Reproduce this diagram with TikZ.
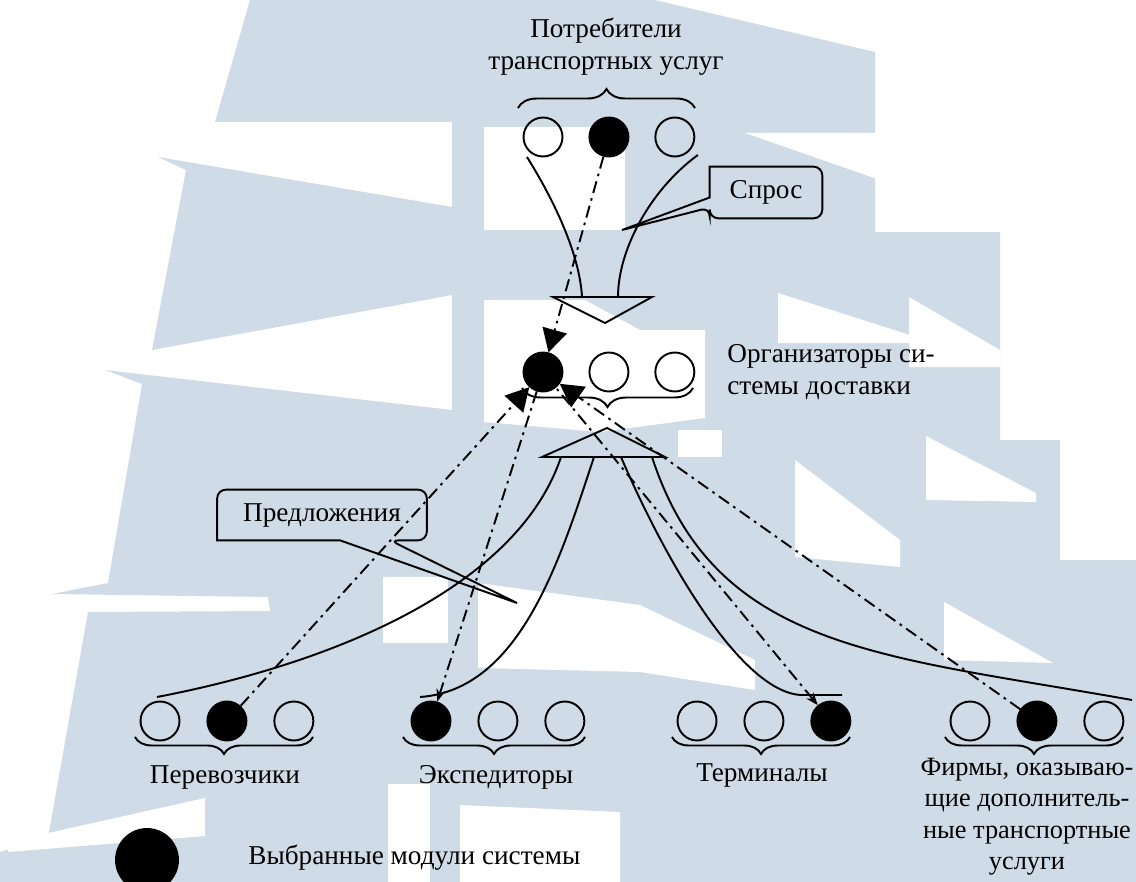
\documentclass[tikz,border=0pt]{standalone}
\usepackage{fontspec}
\setmainfont{Liberation Serif}
\usetikzlibrary{positioning}
\usetikzlibrary{calc}
\usetikzlibrary{arrows.meta}
\usetikzlibrary{decorations.pathreplacing}
\definecolor{vodyanoj}{RGB}{207,219,230}
\tikzset{modul/.style={circle, draw, line width=1.1pt, minimum size=0.78cm, inner sep=0pt},
        vybran/.style={modul, fill=black},
        podpis/.style={font=\fontsize{15.5pt}{18pt}\selectfont, inner sep=0pt, align=center},
        linia/.style={line width=1.1pt},
        punktir/.style={line width=1.1pt, dash pattern=on 7pt off 3pt on 1.5pt off 3pt},
        bolshaya/.style={-{Triangle[length=0.46cm, width=0.5cm]}},
        skobka/.style={decorate, decoration={brace, amplitude=#1}, line width=1.1pt},
        skobka/.default=0.34cm,
}

\begin{document}
\begin{tikzpicture}[x=0.02cm, y=-0.02cm]
      \useasboundingbox (0,0) rectangle (1136,882);
      % WATERMARK (sails in the background)
      \fill[vodyanoj] (250,0) -- (452,0) -- (452,122) -- (215,122) -- cycle;
      \fill[vodyanoj] (158,157) -- (452,207) -- (452,295) -- (152,350) -- (186,170) -- cycle;
      \fill[vodyanoj] (105,370) -- (452,410) -- (452,882) -- (0,882) -- (0,852) -- (48,838) -- (88,612) -- (270,611) -- (268,597) -- (52,594) -- (108,583) -- (142,384) -- cycle;
      \fill[vodyanoj] (452,0) -- (655,0) -- (875,52) -- (875,232) -- (1000,232) -- (1000,440) -- (1136,440) -- (1136,882) -- (452,882) -- cycle;
      \fill[white] (8,842) -- (205,798) -- (205,836) -- (8,852) -- cycle;
      \fill[white] (484,127) rectangle (625,230);
      \fill[white] (745,133) -- (880,133) -- (880,180) -- cycle;
      \fill[white] (484,300) -- (585,300) -- (640,330) -- (705,330) -- (705,418) -- (600,432) -- (484,422) -- cycle;
      \fill[white] (778,293) -- (935,343) -- (778,343) -- cycle;
      \fill[white] (909,297) -- (1000,350) -- (1000,367) -- (909,367) -- cycle;
      \fill[white] (795,460) -- (900,540) -- (900,567) -- (795,557) -- cycle;
      \fill[white] (926,436) -- (1036,493) -- (1036,502) -- (926,500) -- cycle;
      \fill[white] (944,602) -- (1053,663) -- (944,660) -- cycle;
      \fill[white] (1060,440) rectangle (1136,560);
      \fill[white] (383,577) rectangle (448,643);
      \fill[white] (478,583) -- (640,605) -- (755,660) -- (755,690) -- (640,672) -- (478,668) -- cycle;
      \fill[white] (388,784) rectangle (430,882);
      \fill[white] (460,805) -- (620,812) -- (620,882) -- (460,882) -- cycle;
      \fill[white] (678,430) rectangle (722,457);

      % CONSUMERS
      \node[podpis, anchor=north] (potreb) at (606,18) {Потребители\\транспортных услуг};
      \node[modul] (cons1) at (543,137) {};
      \node[vybran, right=0.5cm of cons1] (cons2) {};
      \node[modul, right=0.5cm of cons2] (cons3) {};
      \draw[skobka=0.38cm] (518,108) -- (695,108);

      % DEMAND
      \coordinate (spros-l) at (553,297);
      \coordinate (spros-r) at (652,297);
      \coordinate (spros-v) at (605,323);
      \draw[linia] (spros-l) -- (spros-r) -- (spros-v) -- cycle;
      \draw[linia] ($(cons1)+(-16,20)$) .. controls (560,210) and (580,260) .. (582,297);
      \draw[linia] ($(cons3)+(23,18)$) .. controls (650,190) and (618,250) .. (618,297);
      \node[podpis, minimum width=2.24cm, minimum height=1.02cm] (spros) at (766,192.5) {Спрос};
      \coordinate (spros-tip) at (622,230);
      \draw[linia] (spros-tip) -- ($(spros.west)+(0,5)$) -- (spros.north west) [rounded corners=5pt] -- (spros.north east) -- (spros.south east) -- (spros.south west) -- ($(spros.west)+(0,15)$) [sharp corners] -- cycle;

      % ORGANIZERS
      \node[vybran] (org1) at (543,372) {};
      \node[modul, right=0.5cm of org1] (org2) {};
      \node[modul, right=0.5cm of org2] (org3) {};
      \draw[skobka=0.38cm] (693,388) -- (522,388);
      \node[podpis, anchor=north west, align=left] (organiz) at (727,344) {Организаторы си-\\стемы доставки};
      \draw[punktir, bolshaya] (cons2) -- (org1);

      % SUPPLY
      \coordinate (predl-l) at (542,457);
      \coordinate (predl-r) at (665,457);
      \coordinate (predl-v) at (607,428);
      \draw[linia] (predl-l) -- (predl-r) -- (predl-v) -- cycle;

      % MODULES
      \node[modul] (per1) at (160,721) {};
      \node[vybran, right=0.52cm of per1] (per2) {};
      \node[modul, right=0.52cm of per2] (per3) {};
      \node[vybran] (eks1) at (431,721) {};
      \node[modul, right=0.52cm of eks1] (eks2) {};
      \node[modul, right=0.52cm of eks2] (eks3) {};
      \node[modul] (ter1) at (697,721) {};
      \node[modul, right=0.52cm of ter1] (ter2) {};
      \node[vybran, right=0.52cm of ter2] (ter3) {};
      \node[modul] (fir1) at (970,721) {};
      \node[vybran, right=0.52cm of fir1] (fir2) {};
      \node[modul, right=0.52cm of fir2] (fir3) {};
      \draw[skobka] (313,737) -- (135,737);
      \draw[skobka] (585,737) -- (403,737);
      \draw[skobka] (850,737) -- (672,737);
      \draw[skobka] (1123,737) -- (945,737);
      \node[podpis, anchor=base] (perevoz) at (225,783) {Перевозчики};
      \node[podpis, anchor=base] (eksped) at (496,783) {Экспедиторы};
      \node[podpis, anchor=base] (termin) at (762,781) {Терминалы};
      \node[podpis, anchor=north, font=\fontsize{15pt}{17.8pt}\selectfont] (firmy) at (1027,758) {Фирмы, оказываю-\\щие дополнитель-\\ные транспортные\\услуги};

      % OFFERS
      \draw[linia] (561,457) .. controls (520,580) and (350,660) .. (157,697);
      \draw[linia] (594,457) .. controls (560,560) and (520,690) .. (420,697);
      \draw[linia] (621,457) .. controls (665,560) and (740,690) .. (800,695) -- (842,695);
      \draw[linia] (652,457) .. controls (715,650) and (880,655) .. (1132,700);
      \node[podpis, minimum width=4.18cm, minimum height=1cm] (predl) at (322,515) {Предложения};
      \coordinate (predl-tip) at (517,603);
      \draw[linia] (predl-tip) -- ($(predl.south)+(18,0)$) -- (predl.south west) [rounded corners=5pt] -- (predl.north west) -- (predl.north east) -- (predl.south east) -- ($(predl.south)+(68,0)$) [sharp corners] -- cycle;

      % CHOSEN LINKS
      \draw[punktir, bolshaya] (per2) -- (org1);
      \draw[punktir, bolshaya, {Stealth[length=0.25cm]}-] (eks1) -- (org1);
      \draw[punktir, bolshaya, {Stealth[length=0.25cm]}-] (ter3) -- (org1);
      \draw[punktir, bolshaya] (fir2) -- (org1);

      % LEGEND
      \node[vybran, minimum size=1.24cm] (legenda) at (147,860) {};
      \node[podpis, anchor=base west] (legenda-txt) at (248,864) {Выбранные модули системы};
\end{tikzpicture}
\end{document}
